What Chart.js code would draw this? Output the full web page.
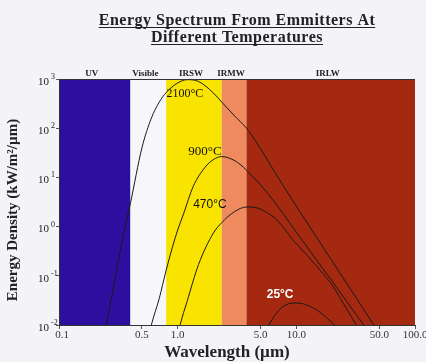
<!DOCTYPE html>
<html>
<head>
<meta charset="utf-8">
<script src="https://cdn.jsdelivr.net/npm/chart.js@4/dist/chart.umd.min.js"></script>
<style>
    html, body { margin: 0; padding: 0; background: #f3f3f8; }
    #wrap { width: 426px; height: 362px; }
</style>
</head>
<body>
<div id="wrap"><canvas id="chart" width="426" height="362"></canvas></div>
<script>
// Spectral bands (wavelength in um)
const bandEdges = [0.1, 0.4, 0.8, 2.35, 3.8, 100];
const bandNames = ['UV', 'Visible', 'IRSW', 'IRMW', 'IRLW'];
const bandColors = ['#2d0f9f', '#f7f7fb', '#f8e400', '#ee8a5e', '#a52810'];

// Axis ticks
const xTicks = [0.1, 0.5, 1, 5, 10, 50, 100];
const xTickLabels = ['0.1', '0.5', '1.0', '5.0', '10.0', '50.0', '100.0'];
const yTicks = [0.01, 0.1, 1, 10, 100, 1000];
const yTickExp = ['-2', '-1', '0', '1', '2', '3'];

// Emitter curves, energy density (kW/m2/um)
const wl2100 = [0.22, 0.25, 0.3, 0.35, 0.4, 0.5, 0.6, 0.7, 0.8, 1.0, 1.2, 1.5, 2.0, 2.35, 3.0, 3.8, 5, 7, 10, 15, 20, 30, 45, 60];
const e2100 = [0.002, 0.01, 0.1, 0.7, 3.0, 40, 160, 340, 530, 830, 970, 890, 520, 340, 180, 100, 38, 10, 2.6, 0.58, 0.2, 0.045, 0.01, 0.0035];

const wl900 = [0.55, 0.6, 0.7, 0.8, 0.9, 1.0, 1.12, 1.35, 1.7, 2.0, 2.35, 2.8, 3.35, 3.8, 5, 6.35, 8, 10, 15, 20, 30, 37, 50];
const e900 = [0.004, 0.01, 0.035, 0.13, 0.37, 0.85, 1.8, 6.5, 16, 23, 26.5, 24, 18.5, 14, 7, 3.5, 1.63, 0.77, 0.2, 0.078, 0.02, 0.01, 0.0037];

const wl470 = [0.95, 1.05, 1.2, 1.5, 2.0, 2.35, 3.0, 3.8, 4.5, 5.5, 7, 9.4, 12, 16.8, 20, 25, 32, 40];
const e470 = [0.003, 0.01, 0.03, 0.17, 0.74, 1.2, 2.0, 2.5, 2.45, 2.0, 1.3, 0.53, 0.28, 0.11, 0.065, 0.027, 0.01, 0.004];

const wl25 = [5.0, 5.5, 6, 7, 8, 9.5, 11, 13, 15, 18, 21, 25];
const e25 = [0.004, 0.0075, 0.011, 0.019, 0.025, 0.028, 0.0275, 0.024, 0.02, 0.014, 0.01, 0.0068];

const curveNames = ['2100°C', '900°C', '470°C', '25°C'];
// where each curve name sits (wavelength, value)
const curveLabelAt = [[1.15, 495], [1.7, 33], [1.87, 2.75], [7.3, 0.041]];
const curveLabelFont = ['12px "Liberation Serif"', '13px "Liberation Serif"', '12px "Liberation Sans"', 'bold 12px "Liberation Sans"'];
const curveLabelColor = ['#111', '#111', '#111', '#ffffff'];

function toPoints(xs, ys) {
    return xs.map((v, i) => ({ x: v, y: ys[i] }));
}

const decorations = {
    id: 'decorations',
    beforeDraw(chart) {
        const { ctx, chartArea: a, scales: { x } } = chart;
        ctx.save();
        ctx.fillStyle = '#f3f3f8';
        ctx.fillRect(0, 0, chart.width, chart.height);
        for (let i = 0; i < bandNames.length; i++) {
            const x0 = x.getPixelForValue(bandEdges[i]);
            const x1 = x.getPixelForValue(bandEdges[i + 1]);
            ctx.fillStyle = bandColors[i];
            ctx.fillRect(x0, a.top, x1 - x0, a.bottom - a.top);
        }
        ctx.restore();
    },
    afterDraw(chart) {
        const { ctx, chartArea: a, scales: { x, y } } = chart;
        ctx.save();

        // top frame line
        ctx.strokeStyle = '#333';
        ctx.lineWidth = 1;
        ctx.beginPath();
        ctx.moveTo(a.left, a.top + 0.5);
        ctx.lineTo(a.right, a.top + 0.5);
        ctx.stroke();

        // band names above the plot
        ctx.fillStyle = '#222';
        ctx.font = 'bold 9px "Liberation Serif"';
        ctx.textAlign = 'center';
        ctx.textBaseline = 'alphabetic';
        for (let i = 0; i < bandNames.length; i++) {
            const mid = Math.sqrt(bandEdges[i] * bandEdges[i + 1]);
            ctx.fillText(bandNames[i], x.getPixelForValue(mid) - 3, a.top - 3);
        }

        // curve names
        ctx.textBaseline = 'middle';
        for (let i = 0; i < curveNames.length; i++) {
            ctx.font = curveLabelFont[i];
            ctx.fillStyle = curveLabelColor[i];
            ctx.fillText(curveNames[i], x.getPixelForValue(curveLabelAt[i][0]), y.getPixelForValue(curveLabelAt[i][1]));
        }

        // y tick labels 10^n
        ctx.fillStyle = '#222';
        for (let i = 0; i < yTicks.length; i++) {
            const py = y.getPixelForValue(yTicks[i]);
            ctx.font = '11px "Liberation Serif"';
            ctx.textAlign = 'right';
            ctx.fillText('10', 49, py + 3);
            ctx.font = '8px "Liberation Serif"';
            ctx.textAlign = 'left';
            ctx.fillText(yTickExp[i], 51, py - 2);
        }

        // x tick labels
        ctx.font = '11px "Liberation Serif"';
        ctx.textAlign = 'center';
        ctx.fillStyle = '#333';
        for (let i = 0; i < xTicks.length; i++) {
            ctx.fillText(xTickLabels[i], x.getPixelForValue(xTicks[i]) + (i === 0 ? 3 : 0), a.bottom + 10);
        }

        // axis titles
        ctx.fillStyle = '#222';
        ctx.font = 'bold 17px "Liberation Serif"';
        ctx.fillText('Wavelength (\u00b5m)', 227, 353);
        ctx.save();
        ctx.translate(13, 210);
        ctx.rotate(-Math.PI / 2);
        ctx.font = 'bold 15px "Liberation Serif"';
        ctx.fillText('Energy Density (kW/m\u00b2/\u00b5m)', 0, 0);
        ctx.restore();

        // underlined title
        ctx.font = 'bold 16px "Liberation Serif"';
        ctx.textBaseline = 'alphabetic';
        ctx.letterSpacing = '0.5px';
        const lines = ['Energy Spectrum From Emmitters At', 'Different Temperatures'];
        const base = [25, 42];
        ctx.strokeStyle = '#222';
        for (let i = 0; i < lines.length; i++) {
            ctx.fillText(lines[i], 237, base[i]);
            const w = ctx.measureText(lines[i]).width;
            ctx.beginPath();
            ctx.moveTo(237 - w / 2, base[i] + 2.5);
            ctx.lineTo(237 + w / 2, base[i] + 2.5);
            ctx.stroke();
        }
        ctx.restore();
    }
};

const curveStyle = {
    borderColor: '#1a1a1a',
    borderWidth: 1,
    pointRadius: 0,
    fill: false,
    cubicInterpolationMode: 'monotone'
};

const ctx = document.getElementById('chart').getContext('2d');
const chart = new Chart(ctx, {
    type: 'line',
    data: {
        datasets: [
            { label: curveNames[0], data: toPoints(wl2100, e2100), ...curveStyle },
            { label: curveNames[1], data: toPoints(wl900, e900), ...curveStyle },
            { label: curveNames[2], data: toPoints(wl470, e470), ...curveStyle },
            { label: curveNames[3], data: toPoints(wl25, e25), ...curveStyle }
        ]
    },
    options: {
        responsive: false,
        animation: false,
        layout: { padding: { top: 79, right: 11, left: 0, bottom: 0 } },
        plugins: {
            legend: { display: false },
            tooltip: { enabled: false },
            title: { display: false }
        },
        scales: {
            x: {
                type: 'logarithmic',
                min: 0.1,
                max: 100,
                afterBuildTicks: scale => { scale.ticks = xTicks.map(v => ({ value: v })); },
                afterFit: scale => { scale.height = 37; },
                ticks: { display: false },
                grid: { drawOnChartArea: false, drawTicks: true, tickLength: 4, color: '#555' },
                border: { display: true, color: '#333', width: 1 }
            },
            y: {
                type: 'logarithmic',
                min: 0.01,
                max: 1000,
                afterBuildTicks: scale => { scale.ticks = yTicks.map(v => ({ value: v })); },
                afterFit: scale => { scale.width = 59; },
                ticks: { display: false },
                grid: { drawOnChartArea: false, drawTicks: true, tickLength: 3, color: '#555' },
                border: { display: true, color: '#333', width: 1 }
            }
        }
    },
    plugins: [decorations]
});
</script>
</body>
</html>
